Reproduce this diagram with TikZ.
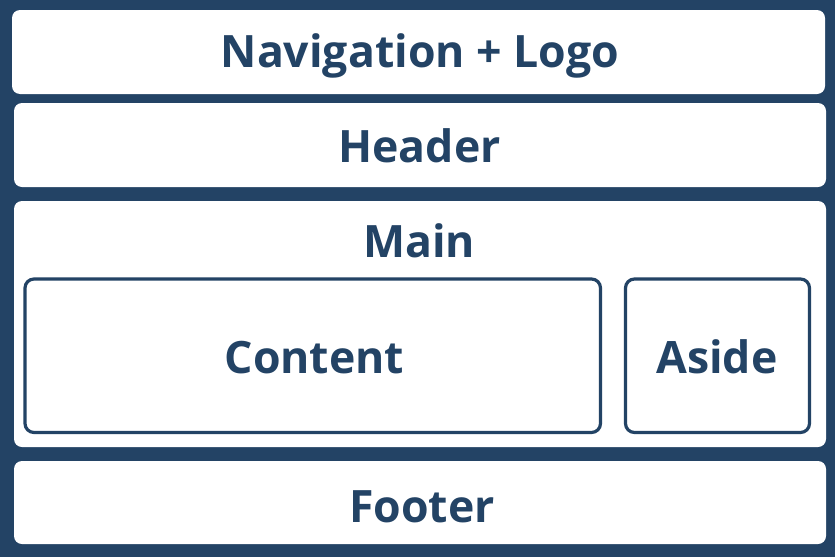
\documentclass[tikz,border=0pt]{standalone}
\usepackage{fontspec}
\setmainfont{Open Sans}
\definecolor{navy}{RGB}{35,67,101}
\begin{document}
\begin{tikzpicture}[x=1pt,y=-1pt,
  panel/.style={fill=white,draw=none,rounded corners=8pt},
  inner/.style={fill=white,draw=navy,line width=3.2pt,rounded corners=9pt},
  lbl/.style={anchor=base,text=navy,font=\fontsize{44.6}{54}\selectfont\bfseries,inner sep=0pt}]
\fill[navy] (0,0) rectangle (835,557);
\useasboundingbox (0,0) rectangle (835,557);
\path[panel] (12,10) rectangle (825,94);
\path[panel] (14,103) rectangle (826,187);
\path[panel] (14,201) rectangle (826,447);
\path[panel] (14,461) rectangle (826,544);
\path[inner] (25,279) rectangle (600.5,432.5);
\path[inner] (625.5,279) rectangle (809.5,432.5);
\node[lbl] (nav) at (420,67) {Navigation + Logo};
\node[lbl] (header) at (419.5,162) {Header};
\node[lbl] (main) at (419,257) {Main};
\node[lbl] (content) at (314.5,373) {Content};
\node[lbl] (aside) at (717,373) {Aside};
\node[lbl] (footer) at (422,522) {Footer};
\end{tikzpicture}
\end{document}
